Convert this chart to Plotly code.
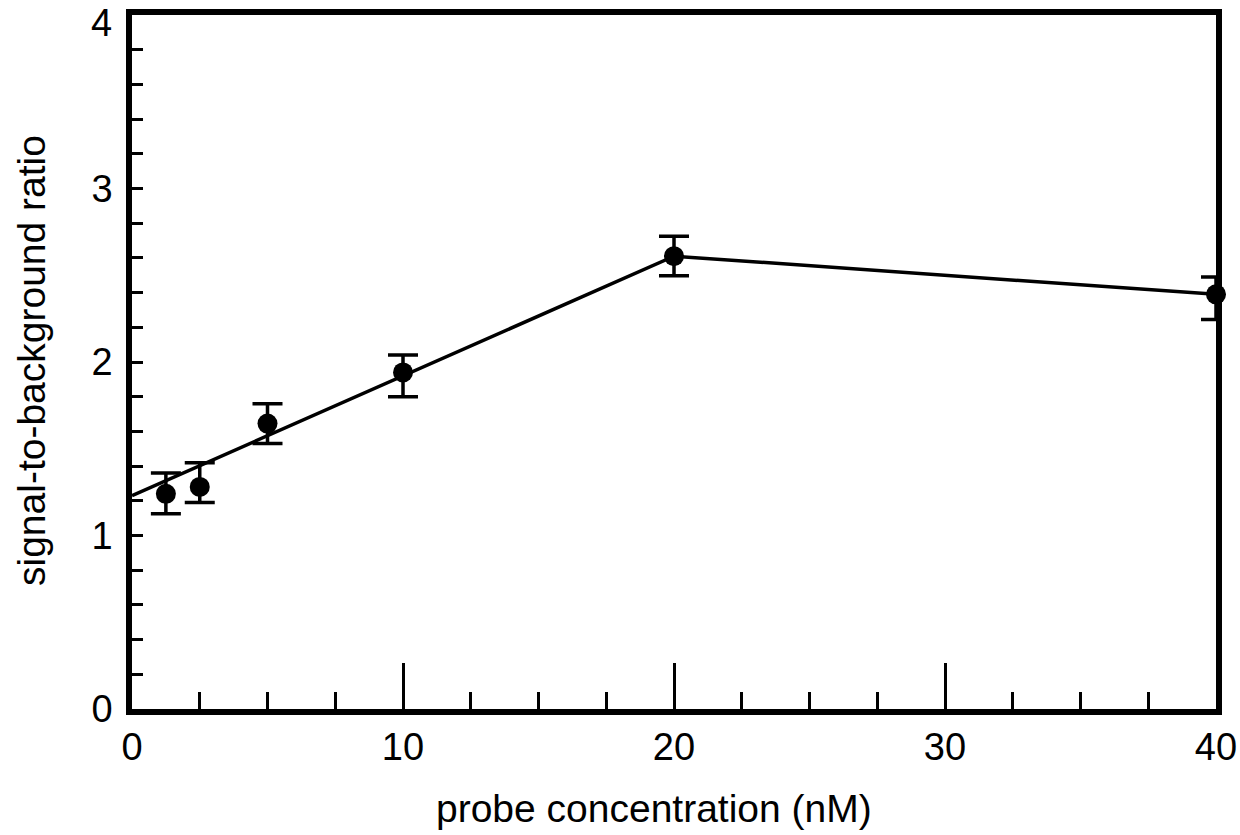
import plotly.graph_objects as go

# data
conc = [1.25, 2.5, 5, 10, 20, 40]
ratio = [1.24, 1.28, 1.645, 1.94, 2.61, 2.39]
err_plus = [0.12, 0.14, 0.115, 0.10, 0.115, 0.10]
err_minus = [0.115, 0.09, 0.115, 0.14, 0.113, 0.145]

fit_x = [0, 20, 40]
fit_y = [1.23, 2.61, 2.39]

x_ticks = [0, 10, 20, 30, 40]
y_ticks = [0, 1, 2, 3, 4]
y_top_label = "4"  # drawn slightly lowered, as in the reference

x_title = "probe concentration (nM)"
y_title = "signal-to-background ratio"

FONT = "Liberation Sans, Arial, Helvetica, sans-serif"

W, H = 1240, 835
ML, MR, MT, MB = 132, 24, 15, 126
PW, PH = W - ML - MR, H - MT - MB


def px_x(p):
    return (p - ML) / PW


def px_y(p):
    return (H - MB - p) / PH


fig = go.Figure()
fig.add_trace(go.Scatter(
    x=fit_x, y=fit_y, mode="lines",
    line=dict(color="black", width=3.5),
    showlegend=False, hoverinfo="skip", cliponaxis=False))
fig.add_trace(go.Scatter(
    x=conc, y=ratio, mode="markers",
    marker=dict(color="black", size=20, symbol="circle"),
    error_y=dict(type="data", symmetric=False, array=err_plus,
                 arrayminus=err_minus, color="black", thickness=3.5, width=15),
    showlegend=False, cliponaxis=False))

y_ticktext = [str(v) if v != y_ticks[-1] else "" for v in y_ticks]

fig.update_layout(
    width=W, height=H,
    margin=dict(l=ML, r=MR, t=MT, b=MB, autoexpand=False),
    paper_bgcolor="white", plot_bgcolor="white",
    font=dict(family=FONT, size=38, color="black"),
    xaxis=dict(
        range=[0, 40], tickvals=x_ticks, ticktext=[str(v) for v in x_ticks],
        showgrid=False, zeroline=False, automargin=False,
        showline=True, linecolor="black", linewidth=5.5, mirror=True,
        ticks="inside", ticklen=46, tickwidth=2.5, tickcolor="black",
        minor=dict(dtick=2.5, tick0=0, ticks="inside", ticklen=17,
                   tickwidth=2.5, tickcolor="black", showgrid=False),
        tickfont=dict(size=38), ticklabeloverflow="allow",
    ),
    yaxis=dict(
        range=[0, 4], tickvals=y_ticks, ticktext=y_ticktext,
        showgrid=False, zeroline=False, automargin=False,
        showline=True, linecolor="black", linewidth=5.5, mirror=True,
        ticks="inside", ticklen=11, tickwidth=2.5, tickcolor="black",
        minor=dict(dtick=0.2, tick0=0, ticks="inside", ticklen=11,
                   tickwidth=2.5, tickcolor="black", showgrid=False),
        tickfont=dict(size=38), ticklabeloverflow="allow", ticklabelstandoff=6,
    ),
    annotations=[
        dict(text=x_title, xref="paper", yref="paper",
             x=px_x(654), y=px_y(808), xanchor="center", yanchor="middle",
             showarrow=False, font=dict(size=39, family=FONT, color="black")),
        dict(text=y_title, xref="paper", yref="paper", textangle=-90,
             x=px_x(31), y=px_y(361), xanchor="center", yanchor="middle",
             showarrow=False, font=dict(size=39, family=FONT, color="black")),
        dict(text=y_top_label, xref="paper", yref="paper",
             x=px_x(114), y=px_y(23), xanchor="right", yanchor="middle",
             showarrow=False, font=dict(size=38, family=FONT, color="black")),
    ],
)

fig.write_html("out.html")
